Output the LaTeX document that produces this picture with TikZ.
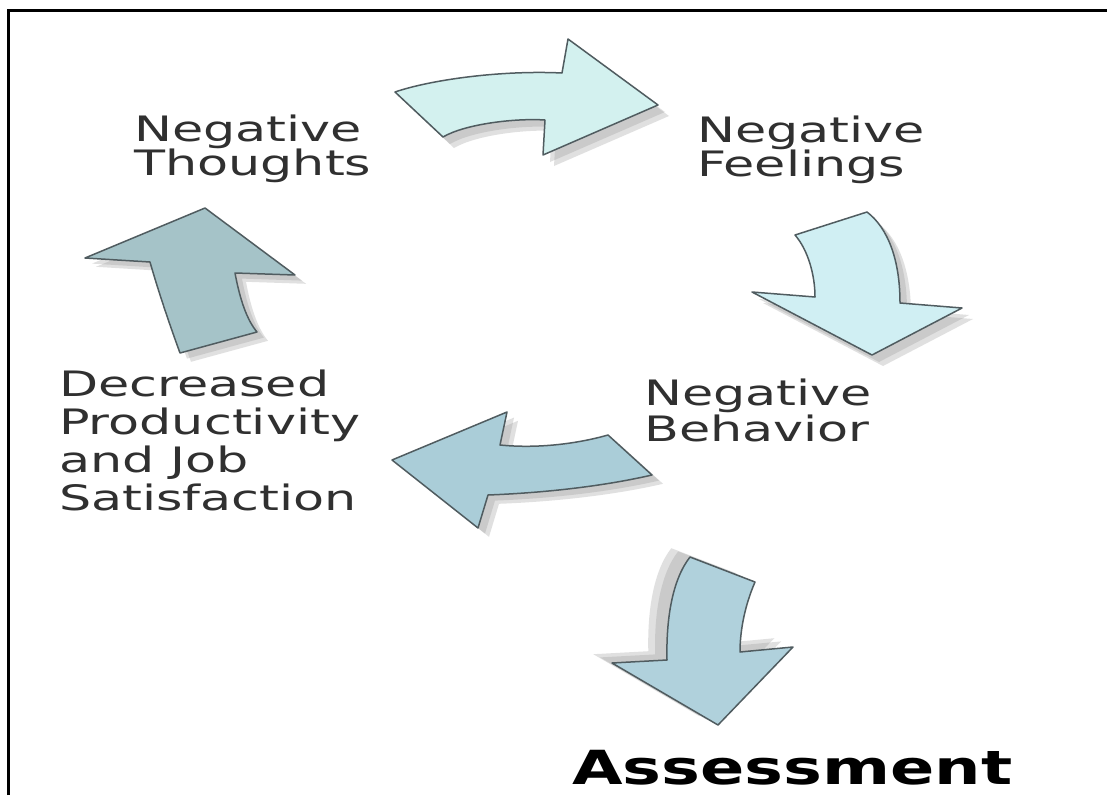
\documentclass[tikz,border=0pt]{standalone}
\usepackage{fontspec}
\newfontfamily\labelfont[FakeStretch=1.45]{DejaVu Sans}
\newfontfamily\titlefont[FakeStretch=1.39]{DejaVu Sans}

\definecolor{labelgray}{HTML}{303030}
\definecolor{edgegray}{HTML}{505C60}
\definecolor{paleA}{HTML}{D3F1EF}
\definecolor{paleB}{HTML}{D0EFF3}
\definecolor{blueC}{HTML}{AACDD8}
\definecolor{tealD}{HTML}{A5C3C8}
\definecolor{blueE}{HTML}{B0D1DC}
\definecolor{shadowgray}{HTML}{9A9A9A}

% outlines of the five curved block arrows
\newcommand\arrowTop{(395,92) .. controls (430,80) and (500,70) .. (562,73)
  -- (568,39) -- (658,105) -- (543,155) -- (545,120)
  .. controls (515,118) and (465,124) .. (443,137) -- cycle}
\newcommand\arrowRight{(795,235) -- (867,212)
  .. controls (888,228) and (900,260) .. (900,303)
  -- (962,308) -- (872,355) -- (752,292) -- (815,297)
  .. controls (815,275) and (808,250) .. (795,235) -- cycle}
\newcommand\arrowMid{(392,460) -- (507,412) -- (500,445)
  .. controls (540,449) and (580,443) .. (608,435)
  -- (652,475)
  .. controls (600,487) and (540,493) .. (488,495)
  -- (478,528) -- cycle}
\newcommand\arrowLeft{(85,258) -- (205,208) -- (295,275) -- (235,273)
  .. controls (240,300) and (247,320) .. (257,332)
  -- (180,353)
  .. controls (168,320) and (158,290) .. (150,262) -- cycle}
\newcommand\arrowDown{(690,557) -- (755,582)
  .. controls (745,605) and (740,630) .. (740,652)
  -- (793,647) -- (718,725) -- (612,663) -- (667,660)
  .. controls (666,620) and (672,580) .. (690,557) -- cycle}

\begin{document}
\begin{tikzpicture}[x=1pt,y=-1pt,
  lbl/.style={font=\labelfont\fontsize{35}{36}\selectfont, text=labelgray,
    inner sep=0pt, anchor=base west},
  blockarrow/.style={draw=edgegray, line width=1.5pt, line join=round},
  arrowshadow/.style={fill=shadowgray, opacity=0.3}]
\useasboundingbox (0,0) rectangle (1107,795);
\fill[white] (0,0) rectangle (1107,795);

% frame along the top and left edges
\draw[line width=3pt] (8,795) -- (8,10) -- (1107,10);

% soft shadows: two layers each
\foreach \s in {0.7,1.1}{
  \fill[arrowshadow, shift={(10*\s,10*\s)}] \arrowTop;
  \fill[arrowshadow, shift={(10*\s,10*\s)}] \arrowRight;
  \fill[arrowshadow, shift={(10*\s,8*\s)}] \arrowMid;
  \fill[arrowshadow, shift={(10*\s,8*\s)}] \arrowLeft;
  \fill[arrowshadow, shift={(-17*\s,-8*\s)}] \arrowDown;
}

% arrows
\draw[blockarrow, fill=paleA] \arrowTop;
\draw[blockarrow, fill=paleB] \arrowRight;
\draw[blockarrow, fill=blueC] \arrowMid;
\draw[blockarrow, fill=tealD] \arrowLeft;
\draw[blockarrow, fill=blueE] \arrowDown;

% labels
\node[lbl] (thoughts) at (134,141) {\vtop{\baselineskip=33pt\hbox{Negative}\hbox{Thoughts}}};
\node[lbl] (feelings) at (697,142) {\vtop{\baselineskip=34pt\hbox{Negative}\hbox{Feelings}}};
\node[lbl] (behavior) at (644,405) {\vtop{\baselineskip=36pt\hbox{Negative}\hbox{Behavior}}};
\node[lbl] (productivity) at (59,396) {\vtop{\baselineskip=38pt\hbox{Decreased}\hbox{Productivity}\hbox{and Job}\hbox{Satisfaction}}};
\node[inner sep=0pt, anchor=base west, font=\titlefont\bfseries\fontsize{47}{50}\selectfont]
  (assessment) at (572,784) {Assessment};
\end{tikzpicture}
\end{document}
